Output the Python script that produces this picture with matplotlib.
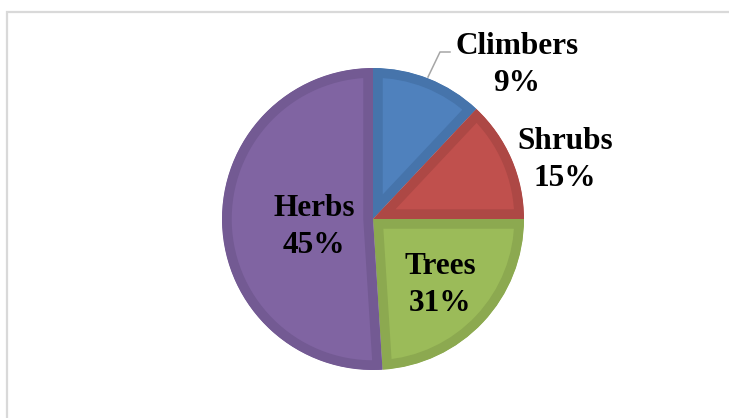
import matplotlib
matplotlib.use('Agg')
import matplotlib.pyplot as plt
from matplotlib.patches import Rectangle

# slice sizes as drawn (angles), labels as printed
categories = ['Climbers', 'Shrubs', 'Trees', 'Herbs']
slice_sizes = [12.0, 13.0, 24.0, 51.0]
pct_labels = ['9%', '15%', '31%', '45%']

face_colors = ['#4F81BD', '#C0504D', '#9BBB59', '#8064A2']
edge_colors = ['#4674AB', '#AD4845', '#8CA950', '#735A93']

# label block centres in pie units (radius = 1)
label_pos = [(0.954, 1.02), (1.272, 0.391), (0.444, -0.437), (-0.391, -0.053)]

W, H = 729, 418
fig = plt.figure(figsize=(W / 100, H / 100), dpi=100)

# light gray chart frame (right / bottom edges lie outside the picture)
fig.patches.append(Rectangle((6.5 / W, -0.1), 1.2, 1 - 12.5 / H + 0.1,
                             transform=fig.transFigure, fill=False,
                             edgecolor='#D9D9D9', lw=1.6))

cx, cy, r = 373, 219, 151
ax = fig.add_axes([(cx - r) / W, (H - cy - r) / H, 2 * r / W, 2 * r / H])

wedges, _ = ax.pie(slice_sizes, colors=face_colors, startangle=90,
                   counterclock=False,
                   wedgeprops=dict(linewidth=14, linestyle='-'))
for w, ec in zip(wedges, edge_colors):
    w.set_edgecolor(ec)
    # keep only the inner half of the stroke -> darker band inside each slice
    w.set_clip_on(True)
    w.set_clip_path(w)

ax.set_xlim(-1, 1)
ax.set_ylim(-1, 1)
ax.set_aspect('equal')
ax.axis('off')

for cat, pct, (x, y) in zip(categories, pct_labels, label_pos):
    ax.text(x, y, cat + '\n' + pct, ha='center', va='center',
            family='Liberation Serif', weight='bold', fontsize=22.5,
            linespacing=1.38, color='black', clip_on=False)

# leader line for Climbers
ax.plot([(428 - cx) / r, (440 - cx) / r, (450 - cx) / r],
        [(cy - 77) / r, (cy - 52) / r, (cy - 52) / r],
        color='#A6A6A6', lw=1.1, clip_on=False)

fig.savefig('out.png', dpi=100)
